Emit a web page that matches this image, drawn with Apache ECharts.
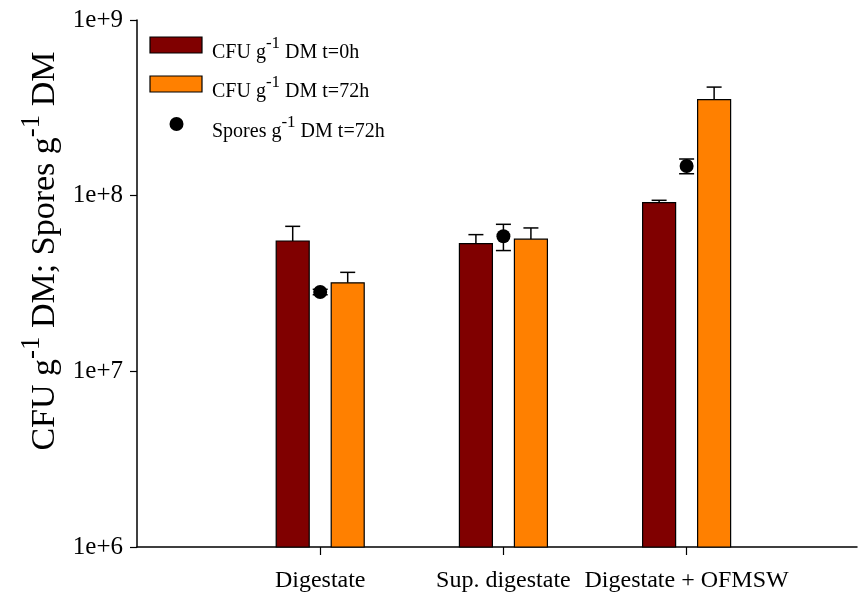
<!DOCTYPE html>
<html>
<head>
<meta charset="utf-8">
<script src="https://cdn.jsdelivr.net/npm/echarts@6/dist/echarts.min.js"></script>
<style>
  html, body { margin: 0; padding: 0; background: #fff; }
  #chart { width: 860px; height: 596px; }
</style>
</head>
<body>
<div id="chart"></div>
<script>
// Treatments along the x axis
const categories = ['Digestate', 'Sup. digestate', 'Digestate + OFMSW'];

// CFU per gram dry matter at t = 0 h (mean and standard deviation)
const cfu0h = [5.52e7, 5.34e7, 9.13e7];
const cfu0hErr = [1.17e7, 0.66e7, 0.28e7];

// CFU per gram dry matter at t = 72 h
const cfu72h = [3.19e7, 5.65e7, 3.52e8];
const cfu72hErr = [0.47e7, 0.90e7, 0.63e8];

// Spores per gram dry matter at t = 72 h
const spores72h = [2.83e7, 5.87e7, 1.475e8];
const spores72hErr = [0.10e7, 1.00e7, 0.142e8];

// Log axis tick labels
const yTickLabels = ['1e+6', '1e+7', '1e+8', '1e+9'];

const FONT = '"Liberation Serif", "Times New Roman", serif';
const Y_MIN = 1e6, Y_MAX = 1e9;
const BAR_W = 33, BAR_OFFSET = 27.5, CAP_W = 15;
const COLOR_0H = '#800000', COLOR_72H = '#FF8000';

const chart = echarts.init(document.getElementById('chart'), null, { renderer: 'canvas' });

function pairs(vals, errs) {
  return vals.map((v, i) => [i + 1, v, errs[i]]);
}

// Bar with upper error whisker, shifted sideways from the category centre
function barItem(offset, color) {
  return function (params, api) {
    const x = api.value(0), v = api.value(1), e = api.value(2);
    const top = api.coord([x, v]);
    const base = api.coord([x, Y_MIN]);
    const cap = api.coord([x, v + e]);
    const cx = top[0] + offset;
    const ls = { stroke: '#000', lineWidth: 1.5 };
    return {
      type: 'group',
      children: [
        { type: 'line', shape: { x1: cx, y1: top[1], x2: cx, y2: cap[1] }, style: ls },
        { type: 'line', shape: { x1: cx - CAP_W / 2, y1: cap[1], x2: cx + CAP_W / 2, y2: cap[1] }, style: ls },
        { type: 'rect', shape: { x: cx - BAR_W / 2, y: top[1], width: BAR_W, height: base[1] - top[1] },
          style: { fill: color, stroke: '#000', lineWidth: 1.2 } }
      ]
    };
  };
}

// Symmetric error whisker for the spore counts
function whiskerItem(params, api) {
  const x = api.value(0), v = api.value(1), e = api.value(2);
  const hi = api.coord([x, v + e]);
  const lo = api.coord([x, v - e]);
  const cx = hi[0];
  const ls = { stroke: '#000', lineWidth: 1.5 };
  return {
    type: 'group',
    children: [
      { type: 'line', shape: { x1: cx, y1: hi[1], x2: cx, y2: lo[1] }, style: ls },
      { type: 'line', shape: { x1: cx - CAP_W / 2, y1: hi[1], x2: cx + CAP_W / 2, y2: hi[1] }, style: ls },
      { type: 'line', shape: { x1: cx - CAP_W / 2, y1: lo[1], x2: cx + CAP_W / 2, y2: lo[1] }, style: ls }
    ]
  };
}

const legendRich = {
  n: { fontFamily: FONT, fontSize: 20, color: '#000', lineHeight: 28, verticalAlign: 'bottom' },
  s: { fontFamily: FONT, fontSize: 17, color: '#000', lineHeight: 17, verticalAlign: 'top' }
};

function legendRow(y, kind, color, text) {
  const icon = kind === 'rect'
    ? { type: 'rect', shape: { x: 150, y: y - 8, width: 52, height: 16 }, style: { fill: color, stroke: '#000', lineWidth: 1.2 } }
    : { type: 'circle', shape: { cx: 176.5, cy: y, r: 7 }, style: { fill: '#000' } };
  return [
    icon,
    { type: 'text', x: 212, y: y + 4, style: { text: text, rich: legendRich, verticalAlign: 'middle', align: 'left' } }
  ];
}

const option = {
  animation: false,
  backgroundColor: '#fff',
  grid: { left: 137, right: 3, top: 20, bottom: 49, containLabel: false },
  xAxis: {
    type: 'value',
    min: 0,
    max: 3.93,
    splitLine: { show: false },
    axisLine: { show: true, lineStyle: { color: '#000', width: 1.5 } },
    axisTick: { show: true, customValues: [1, 2, 3], length: 8, lineStyle: { color: '#000', width: 1.2 } },
    axisLabel: {
      customValues: [1, 2, 3],
      formatter: v => categories[Math.round(v) - 1] || '',
      fontFamily: FONT, fontSize: 24, color: '#000', margin: 22
    }
  },
  yAxis: {
    type: 'log',
    logBase: 10,
    min: Y_MIN,
    max: Y_MAX,
    splitLine: { show: false },
    minorTick: { show: false },
    axisLine: { show: true, lineStyle: { color: '#000', width: 1.5 } },
    axisTick: { show: true, length: 7, lineStyle: { color: '#000', width: 1.2 } },
    axisLabel: {
      formatter: v => yTickLabels[Math.round(Math.log10(v)) - 6],
      fontFamily: FONT, fontSize: 25, color: '#000', margin: 14
    }
  },
  graphic: [
    {
      type: 'text',
      x: 40, y: 251,
      rotation: Math.PI / 2,
      style: {
        text: '{n|CFU g}{s|-1}{n| DM; Spores g}{s|-1}{n| DM}',
        align: 'center', verticalAlign: 'middle',
        rich: {
          n: { fontFamily: FONT, fontSize: 34, color: '#000', lineHeight: 44, verticalAlign: 'bottom' },
          s: { fontFamily: FONT, fontSize: 27, color: '#000', lineHeight: 27, verticalAlign: 'top' }
        }
      }
    },
    ...legendRow(45, 'rect', COLOR_0H, '{n|CFU g}{s|-1}{n| DM t=0h}'),
    ...legendRow(84, 'rect', COLOR_72H, '{n|CFU g}{s|-1}{n| DM t=72h}'),
    ...legendRow(124, 'dot', '#000', '{n|Spores g}{s|-1}{n| DM t=72h}')
  ],
  series: [
    {
      name: 'CFU g-1 DM t=0h',
      type: 'custom',
      renderItem: barItem(-BAR_OFFSET, COLOR_0H),
      data: pairs(cfu0h, cfu0hErr),
      encode: { x: 0, y: 1 }
    },
    {
      name: 'CFU g-1 DM t=72h',
      type: 'custom',
      renderItem: barItem(BAR_OFFSET, COLOR_72H),
      data: pairs(cfu72h, cfu72hErr),
      encode: { x: 0, y: 1 }
    },
    {
      name: 'Spores error',
      type: 'custom',
      renderItem: whiskerItem,
      data: pairs(spores72h, spores72hErr),
      encode: { x: 0, y: 1 },
      z: 3
    },
    {
      name: 'Spores g-1 DM t=72h',
      type: 'scatter',
      symbol: 'circle',
      symbolSize: 14,
      itemStyle: { color: '#000', opacity: 1 },
      data: spores72h.map((v, i) => [i + 1, v]),
      z: 4
    }
  ]
};

chart.setOption(option);
</script>
</body>
</html>
